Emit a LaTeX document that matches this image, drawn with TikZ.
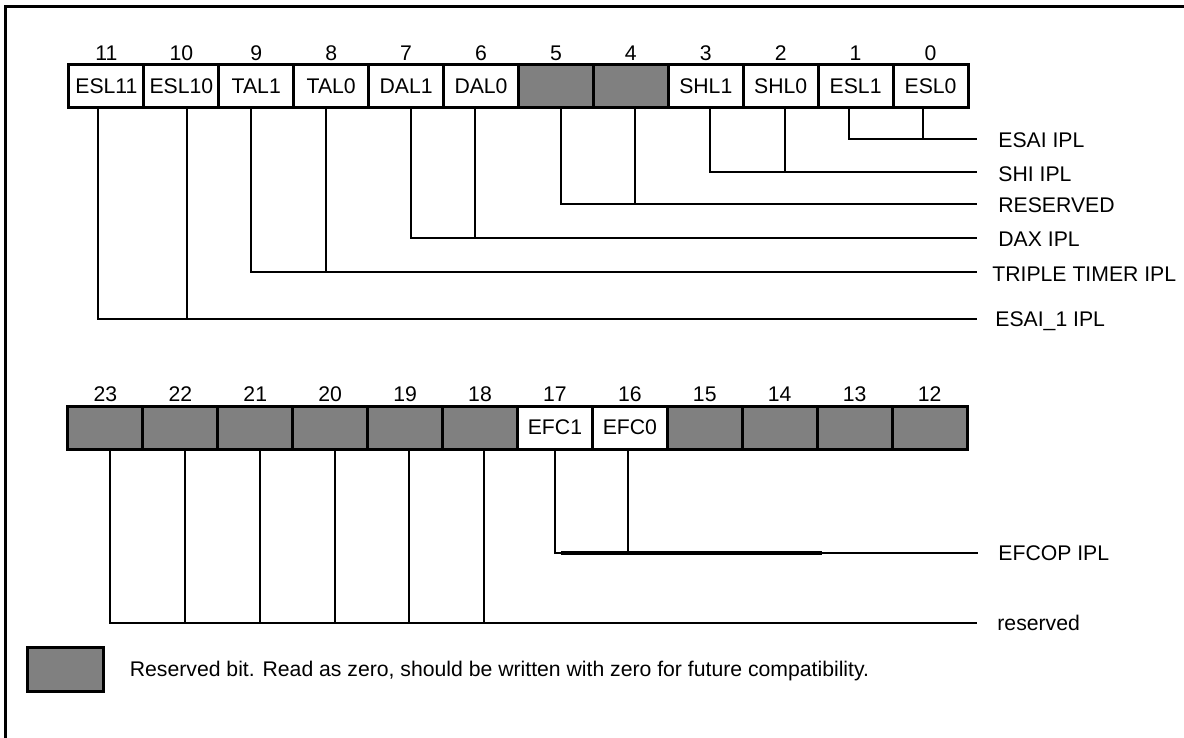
\documentclass[tikz,border=0pt]{standalone}
\usepackage{fontspec}
\setmainfont{Liberation Sans}
\usepackage{xcolor}
\usepackage{tikz}
\usetikzlibrary{positioning}
\definecolor{resv}{HTML}{808080}
\newcommand{\cellfont}{\fontsize{10.6}{12}\selectfont}
\newcommand{\numfont}{\fontsize{10.6}{12}\selectfont}

\begin{document}
\begin{tikzpicture}[x=0.5pt,y=-0.5pt,
  bitcell/.style={draw, line width=1.5pt, minimum width=37.46pt, minimum height=21.5pt, inner sep=0pt, font=\cellfont},
  rsvcell/.style={bitcell, fill=resv},
  bitnum/.style={inner sep=0pt, font=\numfont},
  fieldlbl/.style={inner sep=0pt, text height=7.6pt, text depth=0pt, font=\cellfont},
  lead/.style={line width=1pt}]
\useasboundingbox (0,0) rectangle (1184,738);
% frame
\draw[line width=1.5pt] (5,738) -- (5,7) -- (1184,7);
% register, bits 11..0
\foreach \i/\t/\s in {0/ESL0/bitcell,1/ESL1/bitcell,2/SHL0/bitcell,3/SHL1/bitcell,4//rsvcell,5//rsvcell,
    6/DAL0/bitcell,7/DAL1/bitcell,8/TAL0/bitcell,9/TAL1/bitcell,10/ESL10/bitcell,11/ESL11/bitcell}{
  \node[\s] (b\i) at ({968-74.92*(\i+0.5)},86.5) {\t};
  \node[bitnum, above=1.3pt of b\i] (n\i) {\i};
}
% register, bits 23..12
\foreach \i/\t/\s in {12//rsvcell,13//rsvcell,14//rsvcell,15//rsvcell,16/EFC0/bitcell,17/EFC1/bitcell,
    18//rsvcell,19//rsvcell,20//rsvcell,21//rsvcell,22//rsvcell,23//rsvcell}{
  \node[\s] (b\i) at ({967-74.92*(\i-11.5)},427.5) {\t};
  \node[bitnum, above=1.3pt of b\i] (n\i) {\i};
}
% line ends
\coordinate (e0) at (977,139);
\coordinate (e1) at (977,172);
\coordinate (e2) at (977,204);
\coordinate (e3) at (977,238);
\coordinate (e4) at (977,272);
\coordinate (e5) at (977,319);
\coordinate (e6) at (978,553);
\coordinate (e7) at (977,623);
\coordinate (t6) at (822,553);
% field names
\node[fieldlbl, anchor=west, right=10.5pt of e0, yshift=-0.7pt] (lesai) {ESAI IPL};
\node[fieldlbl, anchor=west, right=10.5pt of e1, yshift=-0.9pt] (lshi) {SHI IPL};
\node[fieldlbl, anchor=west, right=10.5pt of e2, yshift=-0.7pt] (lres) {RESERVED};
\node[fieldlbl, anchor=west, right=10.5pt of e3, yshift=-0.5pt] (ldax) {DAX IPL};
\node[fieldlbl, anchor=west, right=7.5pt of e4, yshift=-0.7pt] (ltt) {TRIPLE TIMER IPL};
\node[fieldlbl, anchor=west, right=9pt of e5] (lesaione) {ESAI\_1 IPL};
\node[fieldlbl, anchor=west, right=10pt of e6] (lefcop) {EFCOP IPL};
\node[fieldlbl, anchor=west, right=10pt of e7] (lrsv) {reserved};
% leads
\foreach \c/\d/\e in {b1/-3.5/e0,b0/-4/e0,b3/2/e1,b2/2/e1,b5/2.5/e2,b4/2/e2,b7/2.5/e3,b6/-3/e3,
    b9/-2.5/e4,b8/-2.5/e4,b11/-4/e5,b10/3/e5,b17/0/e6,b16/-0.75/e6,
    b23/2.5/e7,b22/2.25/e7,b21/2.25/e7,b20/2.5/e7,b19/2/e7,b18/2/e7}
  \draw[lead] ([xshift=\d pt]\c.south) |- (\e);
\draw[line width=1.8pt] ([xshift=3pt]b17.south |- t6) -- (t6);
% key
\node[rsvcell, minimum width=38pt, minimum height=22pt] (key) at (65,669) {};
\node[fieldlbl, right=12.5pt of key] (keytxt) {Reserved bit. Read as zero, should be written with zero for future compatibility.};
\end{tikzpicture}
\end{document}
